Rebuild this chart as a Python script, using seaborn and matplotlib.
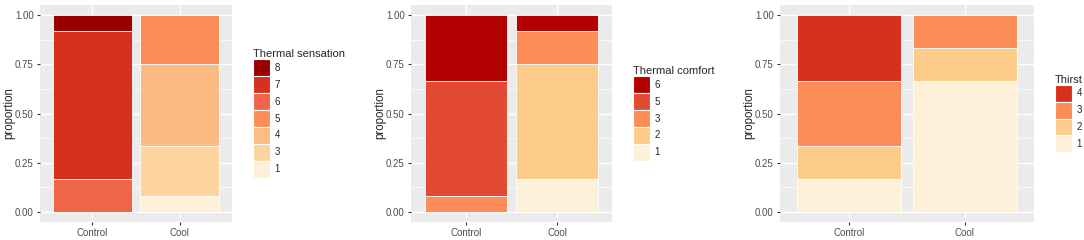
import pandas as pd
import matplotlib.pyplot as plt
import seaborn as sns
from matplotlib.patches import Patch

conditions = ["Control", "Cool"]

# Thermal sensation
sens_levels = ["8", "7", "6", "5", "4", "3", "1"]
sens_colors = ["#990000", "#D7301F", "#EF6548", "#FC8D59", "#FDBB84", "#FDD49E", "#FEF0D9"]
sens_control = {"8": 0.0833, "7": 0.75, "6": 0.1667}
sens_cool = {"5": 0.25, "4": 0.4167, "3": 0.25, "1": 0.0833}

# Thermal comfort
comf_levels = ["6", "5", "3", "2", "1"]
comf_colors = ["#B30000", "#E34A33", "#FC8D59", "#FDCC8A", "#FEF0D9"]
comf_control = {"6": 0.3333, "5": 0.5833, "3": 0.0833}
comf_cool = {"6": 0.0833, "3": 0.1667, "2": 0.5833, "1": 0.1667}

# Thirst
thirst_levels = ["4", "3", "2", "1"]
thirst_colors = ["#D7301F", "#FC8D59", "#FDCC8A", "#FEF0D9"]
thirst_control = {"4": 0.3333, "3": 0.3333, "2": 0.1667, "1": 0.1667}
thirst_cool = {"3": 0.1667, "2": 0.1667, "1": 0.6667}


def to_frame(control, cool):
    rows = []
    for cond, d in zip(conditions, [control, cool]):
        for lev, p in d.items():
            rows.append({"condition": cond, "level": lev, "proportion": p})
    return pd.DataFrame(rows)


sns.set_theme(style="darkgrid", rc={
    "axes.facecolor": "#EBEBEB",
    "grid.color": "white",
    "grid.linewidth": 1.0,
    "xtick.bottom": True,
    "ytick.left": True,
    "xtick.major.size": 2.5,
    "ytick.major.size": 2.5,
    "xtick.major.width": 0.8,
    "ytick.major.width": 0.8,
    "xtick.color": "#333333",
    "ytick.color": "#333333",
    "xtick.labelcolor": "#4D4D4D",
    "ytick.labelcolor": "#4D4D4D",
    "xtick.major.pad": 2,
    "ytick.major.pad": 2,
})
plt.rcParams["font.family"] = ["Liberation Sans", "DejaVu Sans"]

W, H = 1084, 240
fig = plt.figure(figsize=(W / 100, H / 100), dpi=100)

panels = [
    ("Thermal sensation", sens_levels, sens_colors, sens_control, sens_cool, 40, 192),
    ("Thermal comfort", comf_levels, comf_colors, comf_control, comf_cool, 411, 201),
    ("Thirst", thirst_levels, thirst_colors, thirst_control, thirst_cool, 780, 254),
]

for title, levels, colors, control, cool, left, width in panels:
    ax = fig.add_axes([left / W, 18 / H, width / W, 217 / H])
    df = to_frame(control, cool)
    pal = dict(zip(levels, colors))
    sns.histplot(data=df, x="condition", hue="level", weights="proportion",
                 hue_order=levels, palette=pal, multiple="stack",
                 discrete=True, shrink=0.9, alpha=1, edgecolor="white",
                 linewidth=0.6, legend=False, ax=ax)
    ax.set_ylim(-0.05, 1.05)
    ax.set_xlim(-0.6, 1.6)
    ax.set_yticks([0, 0.25, 0.5, 0.75, 1.0])
    ax.set_yticklabels(["0.00", "0.25", "0.50", "0.75", "1.00"])
    ax.set_yticks([0.125, 0.375, 0.625, 0.875], minor=True)
    ax.grid(which="minor", axis="y", color="white", linewidth=0.5)
    ax.tick_params(axis="both", which="major", labelsize=7)
    ax.tick_params(axis="y", which="minor", length=0)
    ax.set_xlabel("")
    ax.set_ylabel("proportion", fontsize=8.3)
    ax.yaxis.set_label_coords(-25 / width, 0.5)
    for s in ax.spines.values():
        s.set_visible(False)
    handles = [Patch(facecolor=c, edgecolor="white", linewidth=0.8) for c in colors]
    fig.legend(handles, levels, title=title, loc="center left",
               bbox_to_anchor=((left + width + 16) / W, (18 + 217 / 2) / H),
               frameon=False, fontsize=7, title_fontsize=8,
               handlelength=1.75, handleheight=2.3, labelspacing=0.0,
               handletextpad=0.5, borderpad=0, alignment="left")

fig.savefig("out.png", dpi=100)
